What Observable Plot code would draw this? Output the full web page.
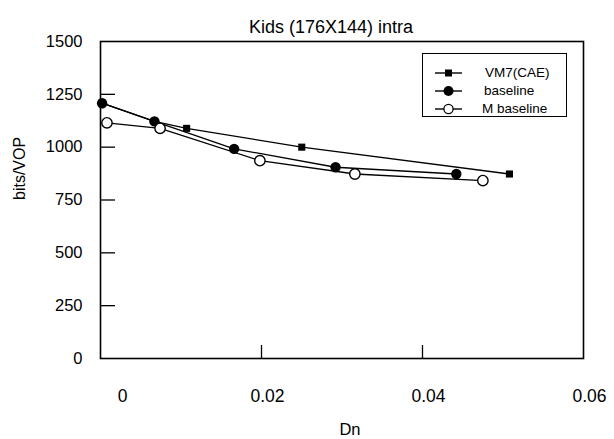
<!DOCTYPE html>
<html><head><meta charset="utf-8">
<script src="https://cdn.jsdelivr.net/npm/d3@7"></script>
<script src="https://cdn.jsdelivr.net/npm/@observablehq/plot@0.6"></script>
<style>
html,body{margin:0;padding:0;background:#fff;}
#wrap{position:relative;width:614px;height:439px;font-family:"Liberation Sans",Arial,sans-serif;}
#legend{position:absolute;left:422px;top:53px;width:145px;height:64px;border:1px solid #000;background:#fff;box-sizing:border-box;}
.row{position:absolute;left:0;width:145px;height:18px;font-size:13.5px;color:#000;}
.row svg{position:absolute;left:12px;top:0;}
.row span{position:absolute;top:1px;white-space:nowrap;}
</style></head><body><div id="wrap"><div id="legend"></div></div>
<script>
// ---- data ----
const seriesNames = ["VM7(CAE)", "baseline", "M baseline"];
const vm7Dn = [0.0002, 0.0067, 0.0107, 0.0250, 0.0508];
const vm7Bits = [1208, 1122, 1089, 1000, 873];
const baseDn = [0.0002, 0.0067, 0.0166, 0.0292, 0.0442];
const baseBits = [1208, 1122, 992, 905, 873];
const mbaseDn = [0.0008, 0.0074, 0.0198, 0.0316, 0.0475];
const mbaseBits = [1115, 1089, 936, 873, 842];
const xTicks = [0, 0.02, 0.04, 0.06];
const yTicks = [0, 250, 500, 750, 1000, 1250, 1500];
const titleText = "Kids (176X144) intra";
const xLabel = "Dn";
const yLabel = "bits/VOP";

const mk = (dn, bits, s) => dn.map((d, i) => ({series: s, dn: d, bits: bits[i]}));
const vm7 = mk(vm7Dn, vm7Bits, seriesNames[0]);
const base = mk(baseDn, baseBits, seriesNames[1]);
const mbase = mk(mbaseDn, mbaseBits, seriesNames[2]);
const all = [...vm7, ...base, ...mbase];

const font = '"Liberation Sans", Arial, sans-serif';
const fmtX = d => d === 0 ? "0" : d.toFixed(2);
const chart = Plot.plot({
  width: 614, height: 439,
  marginLeft: 100, marginRight: 31, marginTop: 41, marginBottom: 81,
  style: {fontFamily: font, fontSize: "16px", color: "#000", background: "#fff", overflow: "visible"},
  x: {domain: [0, 0.06]},
  y: {domain: [0, 1500]},
  marks: [
    Plot.frame({stroke: "#000", strokeWidth: 1.6}),
    Plot.axisY({ticks: yTicks, tickSize: 0, tickPadding: 18, fontSize: 16.5, tickFormat: d => String(d), label: null}),
    Plot.axisY({ticks: yTicks.slice(1, -1), tickSize: -15, tickFormat: () => "", label: null, strokeWidth: 1.3}),
    Plot.axisX({ticks: xTicks.slice(0, 1), tickSize: 0, tickPadding: 31, fontSize: 17.5, dx: 22, tickFormat: fmtX, label: null}),
    Plot.axisX({ticks: xTicks.slice(1), tickSize: 0, tickPadding: 31, fontSize: 17.5, dx: 6, tickFormat: fmtX, label: null}),
    Plot.axisX({ticks: xTicks.slice(1, -1), tickSize: -13, tickFormat: () => "", label: null, strokeWidth: 1.3}),
    Plot.line(all, {x: "dn", y: "bits", z: "series", stroke: "#000", strokeWidth: 1.3}),
    Plot.dot(vm7, {x: "dn", y: "bits", symbol: "square", r: 4, fill: "#000", stroke: "none"}),
    Plot.dot(base, {x: "dn", y: "bits", r: 5.2, fill: "#000", stroke: "none"}),
    Plot.dot(mbase, {x: "dn", y: "bits", r: 5.2, fill: "#fff", stroke: "#000", strokeWidth: 1.4}),
    Plot.text([titleText], {frameAnchor: "top", dy: -21, dx: -11, fontSize: 18, fill: "#000"}),
    Plot.text([xLabel], {frameAnchor: "bottom", dy: 76, dx: 8, fontSize: 16.5, fill: "#000"}),
    Plot.text([yLabel], {frameAnchor: "left", dx: -81, rotate: -90, fontSize: 16, fill: "#000"})
  ]
});
document.getElementById("wrap").prepend(chart);

// legend overlay
const legend = document.getElementById("legend");
const sym = [
  '<rect x="10" y="5.5" width="7" height="7" fill="#000"/>',
  '<circle cx="13.5" cy="9" r="5" fill="#000"/>',
  '<circle cx="13.5" cy="9" r="4.6" fill="#fff" stroke="#000" stroke-width="1.3"/>'
];
const textLeft = [62, 61, 59];
seriesNames.forEach((name, i) => {
  const row = document.createElement("div");
  row.className = "row";
  row.style.top = (10 + i * 18) + "px";
  row.innerHTML = `<svg width="28" height="18"><line x1="0" y1="9" x2="27" y2="9" stroke="#000" stroke-width="1.4"/>${sym[i]}</svg><span style="left:${textLeft[i]}px">${name}</span>`;
  legend.appendChild(row);
});
</script>
</body></html>
